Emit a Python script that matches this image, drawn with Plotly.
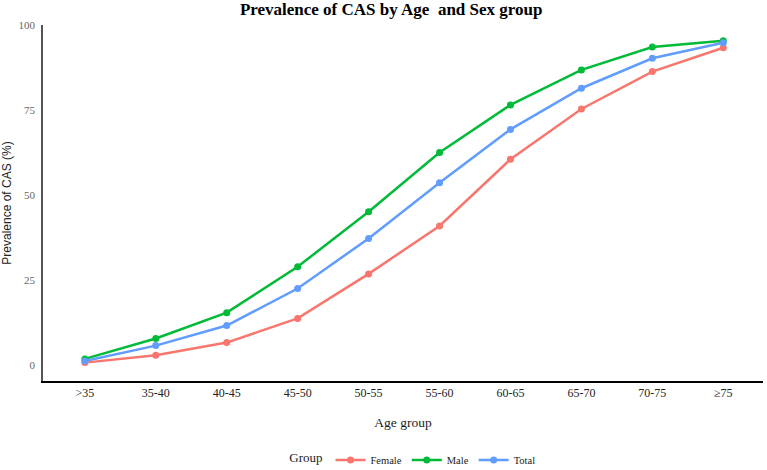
import plotly.graph_objects as go

age_groups = [">35", "35-40", "40-45", "45-50", "50-55", "55-60", "60-65", "65-70", "70-75", "≥75"]
female = [0.7, 2.9, 6.6, 13.7, 26.8, 40.9, 60.5, 75.3, 86.3, 93.3]
male = [1.8, 7.8, 15.4, 28.9, 45.1, 62.5, 76.5, 86.8, 93.5, 95.4]
total = [1.2, 5.7, 11.6, 22.5, 37.2, 53.6, 69.3, 81.4, 90.2, 94.8]

series = [("Female", female, "#F8766D"), ("Male", male, "#00BA38"), ("Total", total, "#619CFF")]

fig = go.Figure()
for name, vals, col in series:
    fig.add_trace(go.Scatter(
        x=age_groups, y=vals, name=name, mode="lines+markers",
        line=dict(color=col, width=2.5), marker=dict(color=col, size=7),
    ))

serif = "Liberation Serif, Times New Roman, serif"
fig.update_layout(
    width=767, height=470,
    margin=dict(l=43, r=4, t=25, b=89, autoexpand=False),
    plot_bgcolor="white", paper_bgcolor="white",
    title=dict(text="<b>Prevalence of CAS by Age  and Sex group</b>", x=0.51, xanchor="center",
               y=0.98, yanchor="middle", font=dict(family=serif, size=17, color="black")),
    xaxis=dict(range=[-0.59, 9.56], showline=True, linecolor="black", linewidth=1.5,
               showgrid=False, zeroline=False, ticks="", automargin=False,
               tickfont=dict(family=serif, size=12, color="#222"),
               title=dict(text="Age group", font=dict(family=serif, size=13.5, color="#222"), standoff=18)),
    yaxis=dict(range=[-4.706, 100], showline=True, linecolor="#555", linewidth=1.5,
               showgrid=False, zeroline=False, ticks="", tickvals=[0, 25, 50, 75, 100],
               ticklabelstandoff=4, automargin=False,
               tickfont=dict(family=serif, size=11, color="#666"),
               title=dict(text="Prevalence of CAS (%)",
                          font=dict(family="Liberation Sans, Arial, sans-serif", size=12, color="#222"),
                          standoff=5)),
    legend=dict(orientation="h", x=0.515, xanchor="center", y=-0.222, yanchor="middle",
                title=dict(text="Group", font=dict(family=serif, size=13, color="#222")),
                font=dict(family=serif, size=10.5, color="#222")),
)

fig.write_html("out.html")
